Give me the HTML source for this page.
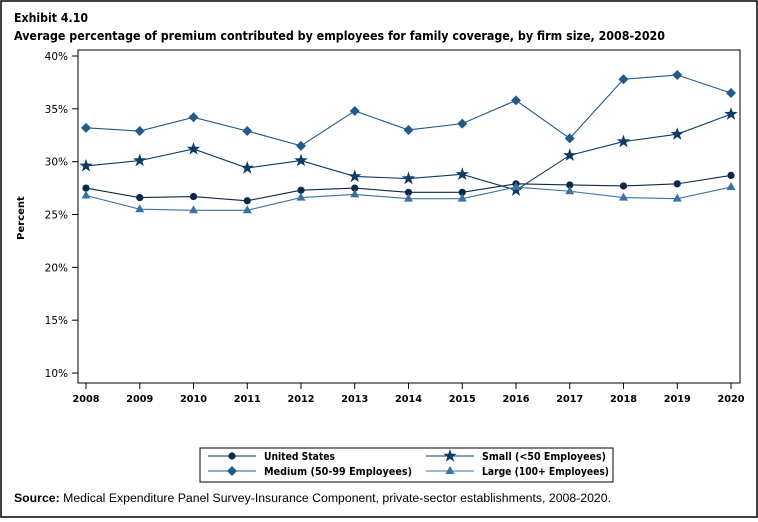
<!DOCTYPE html>
<html><head><style>
body{margin:0;background:#fff;width:758px;height:518px;overflow:hidden;font-family:"DejaVu Sans","Liberation Sans",sans-serif}
</style></head><body>
<svg id="s" width="758" height="518" xmlns="http://www.w3.org/2000/svg" font-family="DejaVu Sans, Liberation Sans, sans-serif">
<rect x="1" y="1" width="756" height="516" fill="#fff" stroke="#000" stroke-width="1.5"/>
<text x="14" y="22" font-size="12.5" font-weight="bold" fill="#000" textLength="74" lengthAdjust="spacingAndGlyphs">Exhibit 4.10</text>
<text x="14" y="40" font-size="12.5" font-weight="bold" fill="#000" textLength="651" lengthAdjust="spacingAndGlyphs">Average percentage of premium contributed by employees for family coverage, by firm size, 2008-2020</text>
<rect x="78" y="50" width="662" height="333" fill="none" stroke="#000" stroke-width="1"/>
<text transform="translate(24,218) rotate(-90)" font-size="10" font-weight="bold" text-anchor="middle">Percent</text>
<rect x="200" y="448" width="413" height="34" fill="none" stroke="#000"/>
<text x="14" y="502" font-size="11.5" font-family="Liberation Sans, sans-serif" textLength="597" lengthAdjust="spacingAndGlyphs"><tspan font-weight="bold">Source:</tspan> Medical Expenditure Panel Survey-Insurance Component, private-sector establishments, 2008-2020.</text>
<g id="g"></g>
</svg>
<script>
var g=document.getElementById('g'),h='';
function Y(v){return 373-(v-10)*(317/30);}
function X(i){return 86+i*53.75;}
for(var p=10;p<=40;p+=5){var y=Y(p);h+='<line x1="72" x2="78" y1="'+y+'" y2="'+y+'" stroke="#000"/><text x="68" y="'+(y+4)+'" font-size="10.5" text-anchor="end">'+p+'%</text>';}
for(var i=0;i<13;i++){var x=X(i);h+='<line x1="'+x+'" x2="'+x+'" y1="383" y2="389" stroke="#000"/><text x="'+x+'" y="402" font-size="10" font-weight="bold" text-anchor="middle" textLength="27" lengthAdjust="spacingAndGlyphs">'+(2008+i)+'</text>';}
var S=[
{c:'#0b2a47',m:'c',d:[27.5,26.6,26.7,26.3,27.3,27.5,27.1,27.1,27.9,27.8,27.7,27.9,28.7]},
{c:'#0d3b66',m:'s',d:[29.6,30.1,31.2,29.4,30.1,28.6,28.4,28.8,27.3,30.6,31.9,32.6,34.5]},
{c:'#215a8c',m:'d',d:[33.2,32.9,34.2,32.9,31.5,34.8,33.0,33.6,35.8,32.2,37.8,38.2,36.5]},
{c:'#3a72a6',m:'t',d:[26.8,25.5,25.4,25.4,26.6,26.9,26.5,26.5,27.6,27.2,26.6,26.5,27.6]}];
function mk(m,x,y,c){
 if(m=='c')return '<circle cx="'+x+'" cy="'+y+'" r="3.6" fill="'+c+'"/>';
 if(m=='d')return '<polygon points="'+x+','+(y-5)+' '+(x+5)+','+y+' '+x+','+(y+5)+' '+(x-5)+','+y+'" fill="'+c+'"/>';
 if(m=='t')return '<polygon points="'+x+','+(y-5)+' '+(x+4.5)+','+(y+3)+' '+(x-4.5)+','+(y+3)+'" fill="'+c+'"/>';
 var pts=[];for(var k=0;k<10;k++){var r=k%2?2.8:7,a=-Math.PI/2+k*Math.PI/5;pts.push((x+r*Math.cos(a)).toFixed(1)+','+(y+r*Math.sin(a)).toFixed(1));}
 return '<polygon points="'+pts.join(' ')+'" fill="'+c+'"/>';}
S.forEach(function(s){var pts=s.d.map(function(v,i){return X(i)+','+Y(v)}).join(' ');
 h+='<polyline points="'+pts+'" fill="none" stroke="'+s.c+'" stroke-width="1.1"/>';
 s.d.forEach(function(v,i){h+=mk(s.m,X(i),Y(v),s.c)});});
var L=[[208,456,'United States',0,71],[426,456,'Small (<50 Employees)',1,124],[208,471,'Medium (50-99 Employees)',2,148],[426,471,'Large (100+ Employees)',3,127]];
L.forEach(function(l){var s=S[l[3]];h+='<line x1="'+l[0]+'" x2="'+(l[0]+48)+'" y1="'+l[1]+'" y2="'+l[1]+'" stroke="'+s.c+'"/>'+mk(s.m,l[0]+24,l[1],s.c)+'<text x="'+(l[0]+56)+'" y="'+(l[1]+4)+'" font-size="10.5" font-weight="bold" textLength="'+l[4]+'" lengthAdjust="spacingAndGlyphs">'+l[2].replace('<','&lt;')+'</text>';});
g.innerHTML=h;
</script>
</body></html>
